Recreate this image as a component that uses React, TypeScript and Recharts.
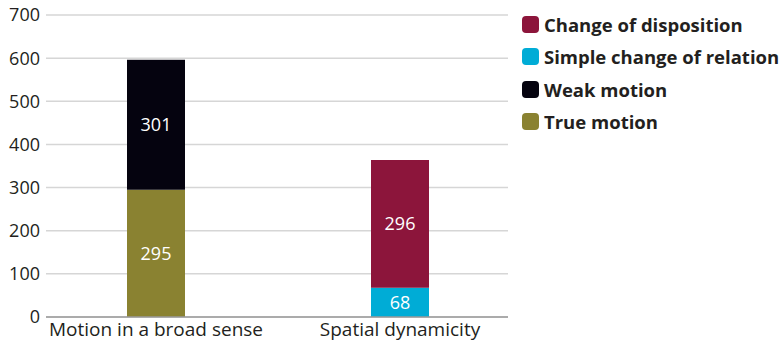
import * as React from "react";
import { BarChart, Bar, XAxis, YAxis, CartesianGrid, LabelList } from "recharts";

// Counts per category, stacked bottom to top
const categories = ["Motion in a broad sense", "Spatial dynamicity"];
const trueMotion = [295, null];
const weakMotion = [301, null];
const simpleChange = [null, 68];
const changeOfDisposition = [null, 296];
const yTicks = [0, 100, 200, 300, 400, 500, 600, 700];

const FONT = "'Open Sans', sans-serif";

// Legend order as listed next to the chart
const seriesInfo = [
  { key: "changeOfDisposition", name: "Change of disposition", color: "#8c153b" },
  { key: "simpleChange", name: "Simple change of relation", color: "#00acd6" },
  { key: "weakMotion", name: "Weak motion", color: "#05030f" },
  { key: "trueMotion", name: "True motion", color: "#8a8231" },
];

const data = categories.map((name, i) => ({
  name,
  trueMotion: trueMotion[i],
  weakMotion: weakMotion[i],
  simpleChange: simpleChange[i],
  changeOfDisposition: changeOfDisposition[i],
}));

const colorOf = (key: string) => seriesInfo.find(s => s.key === key)!.color;

const labelFormatter = (v: any) => (v == null || v === 0 ? "" : v);

// stacking order (bottom first)
const stackOrder = ["trueMotion", "weakMotion", "simpleChange", "changeOfDisposition"];

const App: React.FC = () => (
  <div style={{ position: "absolute", left: 0, top: 0, width: 781, height: 341, background: "#fff", fontFamily: FONT }}>
    <BarChart
      width={781}
      height={341}
      data={data}
      margin={{ top: 15, right: 273, bottom: 0, left: 0 }}
    >
      <CartesianGrid vertical={false} stroke="#d6d6d6" strokeWidth={1.5} />
      <XAxis
        dataKey="name"
        height={24}
        tickLine={false}
        tickSize={3}
        tickMargin={3}
        stroke="#9a9a9a"
        strokeWidth={1.5}
        padding={{ left: -12, right: -14 }}
        tick={{ fill: "#231f20", fontSize: 19, fontFamily: FONT }}
      />
      <YAxis
        width={46}
        domain={[0, 700]}
        ticks={yTicks}
        axisLine={false}
        tickLine={false}
        tickSize={3}
        tickMargin={3}
        tick={{ fill: "#231f20", fontSize: 18, fontFamily: FONT }}
      />
      {stackOrder.map(key => (
        <Bar
          key={key}
          dataKey={key}
          stackId="a"
          fill={colorOf(key)}
          barSize={58}
          isAnimationActive={false}
        >
          <LabelList
            dataKey={key}
            position="center"
            formatter={labelFormatter}
            fill="#ffffff"
            fontSize={18}
            fontFamily={FONT}
          />
        </Bar>
      ))}
    </BarChart>
    <div style={{ position: "absolute", left: 522, top: 8 }}>
      {seriesInfo.map(s => (
        <div key={s.key} style={{ display: "flex", alignItems: "center", height: 32.5 }}>
          <div style={{ width: 17, height: 17, borderRadius: 4, background: s.color, marginRight: 5 }} />
          <span style={{ fontWeight: 700, fontSize: 18.5, color: "#231f20", whiteSpace: "nowrap" }}>{s.name}</span>
        </div>
      ))}
    </div>
  </div>
);

export default App;
